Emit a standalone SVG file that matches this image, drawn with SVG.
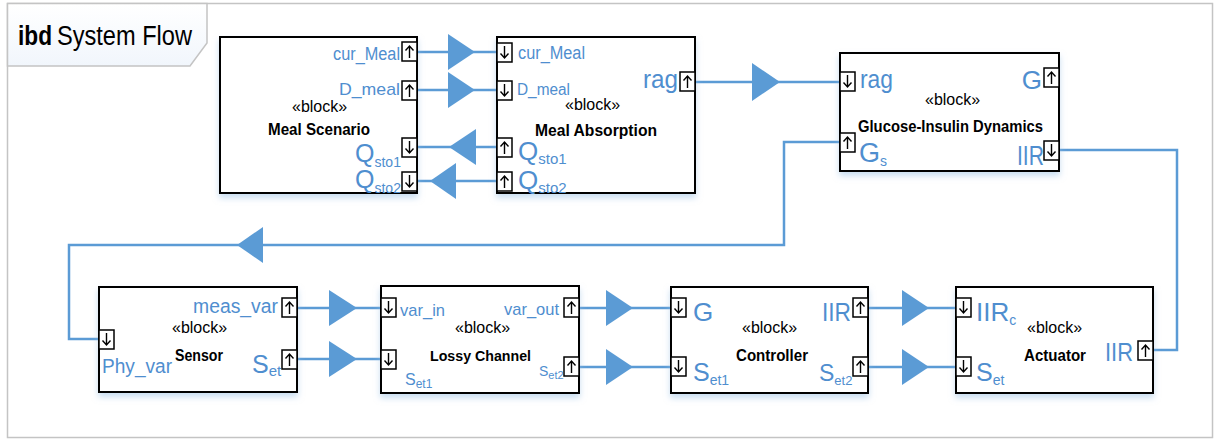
<svg xmlns="http://www.w3.org/2000/svg" xmlns:xlink="http://www.w3.org/1999/xlink" width="1224" height="441" viewBox="0 0 1224 441">
<style>
.frame{fill:#fff;stroke:#c4c4c4;stroke-width:1.5}
.tab{fill:url(#tabg);stroke:#c4c4c4;stroke-width:1.5}
.blk{fill:#fff;stroke:#000;stroke-width:2;filter:url(#sh)}
.t{font-family:"Liberation Sans",Arial,sans-serif;fill:#000}
.b{font-weight:bold}
.p{font-family:"Liberation Sans",Arial,sans-serif;fill:#4f8ecf}
.c{fill:none;stroke:#5b9bd5;stroke-width:2.5}
.tri{fill:#5b9bd5}
</style>
<defs>
<linearGradient id="tabg" x1="0" y1="0" x2="0" y2="1"><stop offset="0" stop-color="#ffffff"/><stop offset="1" stop-color="#f1f6fc"/></linearGradient>
<filter id="sh" x="-10%" y="-10%" width="120%" height="130%"><feDropShadow dx="0" dy="4" stdDeviation="3" flood-color="#9dc3e6" flood-opacity="0.55"/></filter>
<g id="pu"><rect x="0" y="0" width="15" height="19" fill="#fff" stroke="#000" stroke-width="1.5"/><path d="M7.5,16V4M3.5,8.5L7.5,4L11.5,8.5" fill="none" stroke="#000" stroke-width="1.4"/></g>
<g id="pd"><rect x="0" y="0" width="15" height="19" fill="#fff" stroke="#000" stroke-width="1.5"/><path d="M7.5,3V15M3.5,10.5L7.5,15L11.5,10.5" fill="none" stroke="#000" stroke-width="1.4"/></g>
</defs>
<rect class="frame" x="7.5" y="3.5" width="1205" height="434"/>
<g id="title">
<path class="tab" d="M7.5,3.5H207V43L190,66H7.5Z"/>
<text class="t b" x="18" y="45" font-size="27" textLength="34" lengthAdjust="spacingAndGlyphs">ibd</text>
<text class="t" x="57" y="45" font-size="27" textLength="135" lengthAdjust="spacingAndGlyphs">System Flow</text>
</g>

<g id="connectors">
<path class="c" d="M417,52H497"/>
<polygon class="tri" points="448,34 475,52 448,70"/>
<path class="c" d="M417,90H497"/>
<polygon class="tri" points="448,72 475,90 448,108"/>
<path class="c" d="M417,147H497"/>
<polygon class="tri" points="449,147 476,129 476,165"/>
<path class="c" d="M417,181H497"/>
<polygon class="tri" points="430,181 456,163 456,199"/>
<path class="c" d="M695,82H840"/>
<polygon class="tri" points="752,63 780,82 752,101"/>
<path class="c" d="M840,142H784V245H69V339H99"/>
<polygon class="tri" points="237,245 263,227 263,263"/>
<path class="c" d="M1059,150H1177V350H1153"/>
<path class="c" d="M297,308H381"/>
<polygon class="tri" points="329,290 357,308 329,326"/>
<path class="c" d="M297,359H381"/>
<polygon class="tri" points="329,341 357,359 329,377"/>
<path class="c" d="M579,308H671"/>
<polygon class="tri" points="606,290 633,308 606,326"/>
<path class="c" d="M579,367H671"/>
<polygon class="tri" points="606,349 633,367 606,385"/>
<path class="c" d="M868,308H956"/>
<polygon class="tri" points="902,290 929,308 902,326"/>
<path class="c" d="M868,367H956"/>
<polygon class="tri" points="902,349 929,367 902,385"/>
</g>

<g id="meal-scenario">
<rect class="blk" x="220" y="37" width="197" height="156"/>
<text class="t" x="292" y="112" font-size="16">«block»</text>
<text class="t b" x="268" y="135" font-size="17" textLength="102" lengthAdjust="spacingAndGlyphs">Meal Scenario</text>
<use href="#pu" x="402" y="42"/>
<text class="p" x="333" y="60" font-size="18" textLength="67" lengthAdjust="spacingAndGlyphs">cur_Meal</text>
<use href="#pu" x="402" y="81"/>
<text class="p" x="339" y="95" font-size="17" textLength="61" lengthAdjust="spacingAndGlyphs">D_meal</text>
<use href="#pd" x="402" y="138"/>
<text class="p" x="355" y="162" font-size="25">Q<tspan font-size="14" dy="5">sto1</tspan></text>
<use href="#pd" x="402" y="172"/>
<text class="p" x="355" y="188" font-size="25">Q<tspan font-size="14" dy="5">sto2</tspan></text>
</g>

<g id="meal-absorption">
<rect class="blk" x="497" y="37" width="198" height="156"/>
<text class="t" x="565" y="110" font-size="16">«block»</text>
<text class="t b" x="535" y="136" font-size="17" textLength="122" lengthAdjust="spacingAndGlyphs">Meal Absorption</text>
<use href="#pd" x="497" y="43"/>
<text class="p" x="518" y="59" font-size="18" textLength="67" lengthAdjust="spacingAndGlyphs">cur_Meal</text>
<use href="#pd" x="497" y="81"/>
<text class="p" x="517" y="95" font-size="16" textLength="53" lengthAdjust="spacingAndGlyphs">D_meal</text>
<use href="#pu" x="497" y="138"/>
<text class="p" x="518" y="160" font-size="26">Q<tspan font-size="15" dy="4">sto1</tspan></text>
<use href="#pu" x="497" y="172"/>
<text class="p" x="518" y="189" font-size="26">Q<tspan font-size="15" dy="4">sto2</tspan></text>
<use href="#pu" x="680" y="72"/>
<text class="p" x="643" y="88" font-size="26" textLength="35" lengthAdjust="spacingAndGlyphs">rag</text>
</g>

<g id="glucose-insulin">
<rect class="blk" x="840" y="53" width="219" height="118"/>
<text class="t" x="925" y="105" font-size="16">«block»</text>
<text class="t b" x="858" y="132" font-size="17" textLength="185" lengthAdjust="spacingAndGlyphs">Glucose-Insulin Dynamics</text>
<use href="#pd" x="840" y="72"/>
<text class="p" x="860" y="88" font-size="26" textLength="33" lengthAdjust="spacingAndGlyphs">rag</text>
<use href="#pu" x="1044" y="68"/>
<text class="p" x="1042" y="89" font-size="26" text-anchor="end">G</text>
<use href="#pu" x="840" y="133"/>
<text class="p" x="859" y="162" font-size="27">G<tspan font-size="14" dy="4">s</tspan></text>
<use href="#pd" x="1044" y="141"/>
<text class="p" x="1017" y="165" font-size="27" textLength="27" lengthAdjust="spacingAndGlyphs">IIR</text>
</g>

<g id="sensor">
<rect class="blk" x="99" y="287" width="198" height="105"/>
<text class="t" x="172" y="333" font-size="16">«block»</text>
<text class="t b" x="175" y="361" font-size="17" textLength="48" lengthAdjust="spacingAndGlyphs">Sensor</text>
<use href="#pd" x="99" y="330"/>
<text class="p" x="102" y="373" font-size="20" textLength="70" lengthAdjust="spacingAndGlyphs">Phy_var</text>
<use href="#pu" x="282" y="298"/>
<text class="p" x="193" y="313" font-size="20" textLength="85" lengthAdjust="spacingAndGlyphs">meas_var</text>
<use href="#pu" x="282" y="350"/>
<text class="p" x="252" y="373" font-size="25">S<tspan font-size="15" dy="3">et</tspan></text>
</g>

<g id="lossy-channel">
<rect class="blk" x="381" y="286" width="198" height="107"/>
<text class="t" x="455" y="333" font-size="16">«block»</text>
<text class="t b" x="430" y="361" font-size="15" textLength="101" lengthAdjust="spacingAndGlyphs">Lossy Channel</text>
<use href="#pd" x="381" y="298"/>
<text class="p" x="400" y="316" font-size="17" textLength="45" lengthAdjust="spacingAndGlyphs">var_in</text>
<use href="#pd" x="381" y="350"/>
<text class="p" x="405" y="385" font-size="16">S<tspan font-size="12" dy="3">et1</tspan></text>
<use href="#pu" x="564" y="298"/>
<text class="p" x="504" y="315" font-size="17" textLength="55" lengthAdjust="spacingAndGlyphs">var_out</text>
<use href="#pu" x="564" y="357"/>
<text class="p" x="539" y="376" font-size="14">S<tspan font-size="11" dy="3">et2</tspan></text>
</g>

<g id="controller">
<rect class="blk" x="671" y="287" width="197" height="106"/>
<text class="t" x="742" y="333" font-size="16">«block»</text>
<text class="t b" x="736" y="361" font-size="17" textLength="72" lengthAdjust="spacingAndGlyphs">Controller</text>
<use href="#pd" x="671" y="298"/>
<text class="p" x="693" y="321" font-size="26">G</text>
<use href="#pd" x="671" y="357"/>
<text class="p" x="693" y="381" font-size="25">S<tspan font-size="14" dy="4">et1</tspan></text>
<use href="#pu" x="853" y="298"/>
<text class="p" x="822" y="321" font-size="26" textLength="29" lengthAdjust="spacingAndGlyphs">IIR</text>
<use href="#pu" x="853" y="357"/>
<text class="p" x="819" y="381" font-size="23">S<tspan font-size="13" dy="4">et2</tspan></text>
</g>

<g id="actuator">
<rect class="blk" x="956" y="287" width="197" height="106"/>
<text class="t" x="1027" y="333" font-size="16">«block»</text>
<text class="t b" x="1024" y="361" font-size="17" textLength="62" lengthAdjust="spacingAndGlyphs">Actuator</text>
<use href="#pd" x="956" y="298"/>
<text class="p" x="976" y="321" font-size="26">IIR<tspan font-size="14" dy="4">c</tspan></text>
<use href="#pd" x="956" y="357"/>
<text class="p" x="976" y="381" font-size="25">S<tspan font-size="14" dy="4">et</tspan></text>
<use href="#pu" x="1138" y="341"/>
<text class="p" x="1105" y="361" font-size="26" textLength="28" lengthAdjust="spacingAndGlyphs">IIR</text>
</g>
</svg>
